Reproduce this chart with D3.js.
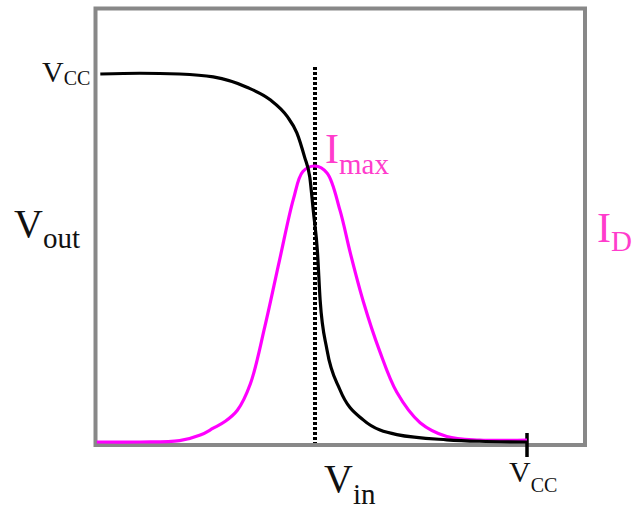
<!DOCTYPE html>
<html>
<head>
<meta charset="utf-8">
<script src="https://cdn.jsdelivr.net/npm/d3@7"></script>
<style>
  html, body { margin: 0; padding: 0; background: #fff; }
  svg { display: block; }
</style>
</head>
<body>
<div id="chart"></div>
<script>
// ---- data ----
const VCC = 5;
// transfer characteristic Vout(Vin)
const voutVin  = [0.05, 0.51, 0.97, 1.36, 1.75, 2.02, 2.22, 2.33, 2.42, 2.48, 2.52, 2.57, 2.60, 2.68, 2.83, 3.10, 3.49, 4.07, 4.45, 5.00];
const voutVals = [5.00, 5.01, 5.00, 4.96, 4.82, 4.65, 4.42, 4.20, 3.87, 3.60, 3.15, 2.57, 1.93, 1.25, 0.71, 0.30, 0.10, 0.03, 0.01, 0.00];
// drain current ID(Vin), normalised to Imax
const idVin  = [0.01, 0.51, 0.97, 1.21, 1.36, 1.50, 1.64, 1.79, 1.96, 2.13, 2.29, 2.40, 2.54, 2.68, 2.83, 2.95, 3.10, 3.29, 3.49, 3.76, 4.07, 4.45, 5.00];
const idVals = [0.00, 0.00, 0.005, 0.025, 0.05, 0.075, 0.115, 0.21, 0.42, 0.66, 0.88, 0.98, 1.00, 0.975, 0.84, 0.685, 0.51, 0.33, 0.18, 0.07, 0.02, 0.007, 0.007];
const vinAtImax = 2.54;

const W = 633, H = 509;
const FONT = "'Liberation Serif', Tinos, 'Noto Serif', 'DejaVu Serif', FreeSerif, 'Nimbus Roman', 'Times New Roman', Times, serif";
const svg = d3.select("#chart").append("svg").attr("width", W).attr("height", H);

const x = d3.scaleLinear().domain([0, VCC]).range([96, 527]);
const yV = d3.scaleLinear().domain([0, VCC]).range([442, 74]);
const yI = d3.scaleLinear().domain([0, 1]).range([442, 166]);

// frame
const fx0 = 95.5, fx1 = 585, fy0 = 8.5, fy1 = 445;
svg.append("rect")
  .attr("x", fx0).attr("y", fy0).attr("width", fx1 - fx0).attr("height", fy1 - fy0)
  .attr("fill", "none").attr("stroke", "#888").attr("stroke-width", 4);

// dotted line at Imax
svg.append("line")
  .attr("x1", Math.round(x(vinAtImax))).attr("x2", Math.round(x(vinAtImax)))
  .attr("y1", yV(5.1)).attr("y2", fy1 - 2)
  .attr("stroke", "#000").attr("stroke-width", 4)
  .attr("shape-rendering", "crispEdges")
  .attr("stroke-dasharray", "3,2");

// Vcc tick on x axis
svg.append("line")
  .attr("x1", x(VCC)).attr("x2", x(VCC))
  .attr("y1", 433).attr("y2", 457)
  .attr("stroke", "#000").attr("stroke-width", 3.5);

// ID curve
const idData = idVin.map((v, i) => [v, idVals[i]]);
svg.append("path")
  .datum(idData)
  .attr("fill", "none").attr("stroke", "#ff00ff").attr("stroke-width", 3.2)
  .attr("d", d3.line().x(d => x(d[0])).y(d => yI(d[1])).curve(d3.curveCatmullRom.alpha(0.5)));

// Vout curve
const vData = voutVin.map((v, i) => [v, voutVals[i]]);
svg.append("path")
  .datum(vData)
  .attr("fill", "none").attr("stroke", "#000").attr("stroke-width", 3.2)
  .attr("d", d3.line().x(d => x(d[0])).y(d => yV(d[1])).curve(d3.curveMonotoneX));

// labels
function label(px, py, main, sub, mainSize, subSize, subShift, color) {
  const t = svg.append("text").attr("x", px).attr("y", py).attr("fill", color)
    .attr("font-family", FONT).style("font-family", FONT);
  t.append("tspan").attr("font-size", mainSize).text(main);
  t.append("tspan").attr("font-size", subSize).attr("dy", subShift).text(sub);
  return t;
}
const ink = "#111", pink = "#ff3ccc";
label(42, 82, "V", "CC", 30, 20, 3, ink);
label(14, 237, "V", "out", 40, 29, 11, ink);
label(325, 163, "I", "max", 42, 29, 11, pink);
label(597, 242, "I", "D", 42, 29, 9, pink);
label(324, 492, "V", "in", 40, 29, 12, ink);
label(509, 482, "V", "CC", 30, 20, 10, ink);
</script>
</body>
</html>
